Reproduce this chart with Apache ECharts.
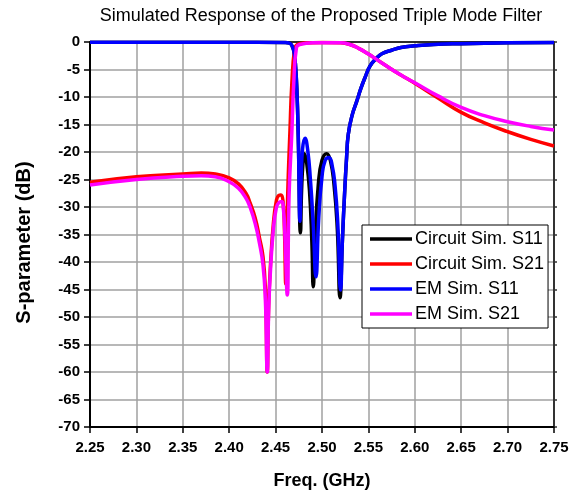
<!DOCTYPE html>
<html>
<head>
<meta charset="utf-8">
<script src="https://cdn.jsdelivr.net/npm/echarts@6/dist/echarts.min.js"></script>
<style>
  html, body { margin: 0; padding: 0; background: #fff; }
  #chart { width: 578px; height: 495px; }
</style>
</head>
<body>
<div id="chart"></div>
<script>
// Circuit Sim. S11
var cirS11Freq = [2.25, 2.40, 2.46, 2.465, 2.468, 2.470, 2.4716, 2.473, 2.4744, 2.4768, 2.478, 2.4795, 2.481, 2.4835, 2.4865, 2.489, 2.4906, 2.4925, 2.496, 2.500, 2.505, 2.509, 2.513, 2.5165, 2.5194, 2.522, 2.5245, 2.5265, 2.5283, 2.5325, 2.5374, 2.542, 2.5463, 2.5517, 2.559, 2.565, 2.575, 2.585, 2.60, 2.62, 2.65, 2.70, 2.75];
var cirS11dB = [-0.05, -0.05, -0.1, -0.2, -0.8, -2.0, -4.6, -9, -17, -34.7, -27, -22, -20.3, -22, -27, -36, -44.5, -36, -26, -21.5, -20.3, -21.5, -26, -34, -46.5, -36, -27, -21, -16.8, -13.3, -10.8, -8.4, -6.5, -4.4, -2.9, -2.1, -1.5, -1.0, -0.7, -0.45, -0.3, -0.15, -0.1];

// Circuit Sim. S21
var cirS21Freq = [2.25, 2.30, 2.35, 2.37, 2.385, 2.40, 2.41, 2.418, 2.4224, 2.428, 2.4325, 2.4364, 2.439, 2.441, 2.4425, 2.444, 2.4476, 2.451, 2.4535, 2.4558, 2.458, 2.4595, 2.461, 2.463, 2.4655, 2.4675, 2.4705, 2.473, 2.48, 2.50, 2.52, 2.53, 2.54, 2.55, 2.56, 2.57, 2.58, 2.59, 2.60, 2.625, 2.65, 2.675, 2.70, 2.725, 2.75];
var cirS21dB = [-25.5, -24.5, -24.0, -23.8, -24.0, -24.7, -25.8, -27.5, -29.2, -32, -35.5, -39, -45, -60, -48, -42, -33, -28.7, -27.9, -27.8, -29, -34, -44, -28, -16, -7.5, -1.2, -0.5, -0.2, -0.1, -0.15, -0.45, -1.2, -2.2, -3.3, -4.4, -5.5, -6.5, -7.5, -10.2, -12.8, -14.7, -16.3, -17.7, -18.9];

// EM Sim. S11
var emS11Freq = [2.25, 2.40, 2.46, 2.465, 2.468, 2.470, 2.4716, 2.473, 2.4744, 2.4763, 2.4775, 2.479, 2.4817, 2.4845, 2.4875, 2.4905, 2.4935, 2.4965, 2.500, 2.5035, 2.5075, 2.511, 2.514, 2.517, 2.520, 2.522, 2.5245, 2.5265, 2.5283, 2.5325, 2.5374, 2.542, 2.5463, 2.5517, 2.559, 2.565, 2.575, 2.585, 2.60, 2.62, 2.65, 2.70, 2.75];
var emS11dB = [-0.05, -0.05, -0.1, -0.2, -0.8, -2.0, -4.6, -9, -16.8, -32.6, -25, -19.5, -17.5, -19.5, -25, -33, -42.7, -32, -24.5, -21.5, -21.0, -22.5, -26, -33, -45.1, -36, -27, -21, -16.8, -13.3, -10.8, -8.4, -6.5, -4.4, -2.9, -2.1, -1.5, -1.0, -0.7, -0.45, -0.3, -0.15, -0.1];

// EM Sim. S21
var emS21Freq = [2.25, 2.30, 2.35, 2.37, 2.385, 2.40, 2.41, 2.418, 2.4224, 2.428, 2.4325, 2.4364, 2.439, 2.441, 2.4425, 2.444, 2.4476, 2.451, 2.4535, 2.4565, 2.4585, 2.460, 2.4626, 2.4645, 2.4675, 2.4695, 2.4725, 2.476, 2.49, 2.52, 2.53, 2.54, 2.55, 2.56, 2.57, 2.58, 2.59, 2.60, 2.625, 2.65, 2.675, 2.70, 2.725, 2.75];
var emS21dB = [-26.0, -25.0, -24.4, -24.3, -24.5, -25.4, -26.6, -28.4, -30, -33, -36.5, -40.5, -47, -60, -49, -43, -34, -30, -29.2, -29.0, -30.5, -35, -46, -28, -16.5, -7.7, -1.0, -0.45, -0.15, -0.15, -0.45, -1.2, -2.2, -3.3, -4.4, -5.5, -6.5, -7.4, -9.8, -11.9, -13.4, -14.5, -15.35, -16.0];

function pairs(xs, ys) {
    return xs.map(function (x, i) { return [x, ys[i]]; });
}

var font = 'Arial, "Liberation Sans", sans-serif';

function line(name, color, xs, ys) {
    return {
        name: name,
        type: 'line',
        data: pairs(xs, ys),
        showSymbol: false,
        symbol: 'none',
        smooth: 0.5,
        lineStyle: { color: color, width: 3.5 },
        itemStyle: { color: color }
    };
}

var chart = echarts.init(document.getElementById('chart'));
chart.setOption({
    animation: false,
    title: {
        text: 'Simulated Response of the Proposed Triple Mode Filter',
        left: 316,
        textAlign: 'center',
        top: 2,
        textStyle: { fontFamily: font, fontSize: 18, fontWeight: 'normal', color: '#000' }
    },
    legend: {
        orient: 'vertical',
        left: 362,
        top: 225,
        padding: [5, 4, 5, 8],
        icon: 'rect',
        itemWidth: 42,
        itemHeight: 3.5,
        itemGap: 7,
        backgroundColor: '#fff',
        borderColor: '#000',
        borderWidth: 1,
        borderRadius: 0,
        textStyle: { fontFamily: font, fontSize: 18, color: '#000', padding: [0, 0, 0, -2] },
        data: ['Circuit Sim. S11', 'Circuit Sim. S21', 'EM Sim. S11', 'EM Sim. S21']
    },
    grid: { left: 90, right: 24, top: 42, bottom: 68 },
    xAxis: [{
        type: 'value',
        min: 2.25,
        max: 2.75,
        interval: 0.05,
        name: 'Freq. (GHz)',
        nameLocation: 'middle',
        nameGap: 45,
        nameTextStyle: { fontFamily: font, fontSize: 18, fontWeight: 'bold', color: '#000' },
        axisLine: { onZero: false, lineStyle: { color: '#000', width: 2 } },
        axisTick: { length: 6, lineStyle: { color: '#000', width: 1.5 } },
        axisLabel: {
            margin: 13,
            fontFamily: font, fontSize: 15, fontWeight: 'bold', color: '#000',
            formatter: function (v) { return v.toFixed(2); }
        },
        splitLine: { show: true, lineStyle: { color: '#a0a0a0', width: 1.5 } }
    }, {
        type: 'value',
        position: 'top',
        min: 2.25,
        max: 2.75,
        interval: 0.05,
        axisLine: { onZero: false, lineStyle: { color: '#000', width: 1.5 } },
        axisTick: { show: false },
        axisLabel: { show: false },
        splitLine: { show: false }
    }],
    yAxis: [{
        type: 'value',
        min: -70,
        max: 0,
        interval: 5,
        name: 'S-parameter (dB)',
        nameLocation: 'middle',
        nameGap: 56,
        nameTextStyle: { fontFamily: font, fontSize: 20, fontWeight: 'bold', color: '#000', padding: [0, 16, 0, 0] },
        axisLine: { show: true, onZero: false, lineStyle: { color: '#000', width: 2 } },
        axisTick: { show: true, length: 6, lineStyle: { color: '#000', width: 1.5 } },
        axisLabel: { margin: 10, fontFamily: font, fontSize: 15, fontWeight: 'bold', color: '#000' },
        splitLine: { show: true, lineStyle: { color: '#a0a0a0', width: 1.5 } }
    }, {
        type: 'value',
        position: 'right',
        min: -70,
        max: 0,
        interval: 5,
        axisLine: { show: true, onZero: false, lineStyle: { color: '#333', width: 2 } },
        axisTick: { show: true, length: 3, lineStyle: { color: '#333', width: 1.5 } },
        axisLabel: { show: false },
        splitLine: { show: false }
    }],
    series: [
        line('Circuit Sim. S11', '#000000', cirS11Freq, cirS11dB),
        line('Circuit Sim. S21', '#ff0000', cirS21Freq, cirS21dB),
        line('EM Sim. S11', '#0000ff', emS11Freq, emS11dB),
        line('EM Sim. S21', '#ff00ff', emS21Freq, emS21dB)
    ]
});
</script>
</body>
</html>
